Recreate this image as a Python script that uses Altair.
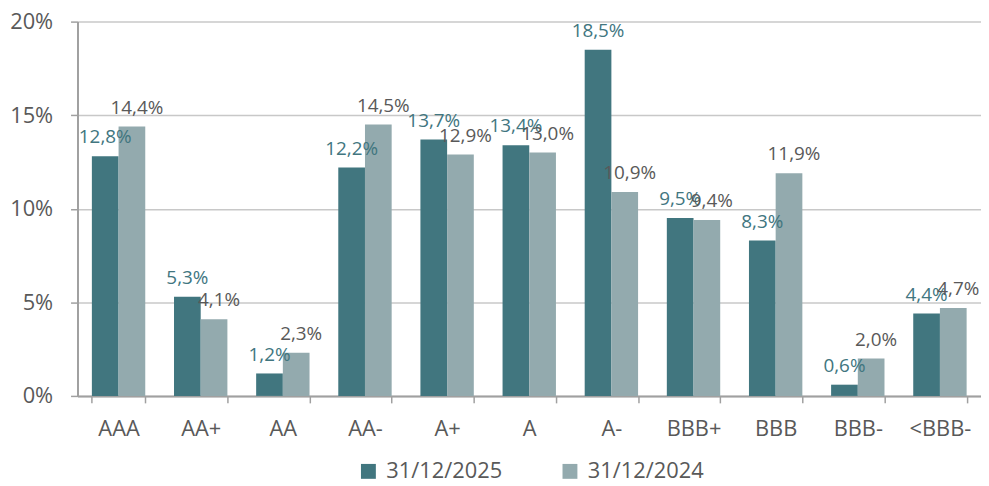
import altair as alt
import pandas as pd

categories = ["AAA", "AA+", "AA", "AA-", "A+", "A", "A-", "BBB+", "BBB", "BBB-", "<BBB-"]
series_names = ["31/12/2025", "31/12/2024"]
values_2025 = [12.8, 5.3, 1.2, 12.2, 13.7, 13.4, 18.5, 9.5, 8.3, 0.6, 4.4]
values_2024 = [14.4, 4.1, 2.3, 14.5, 12.9, 13.0, 10.9, 9.4, 11.9, 2.0, 4.7]

rows = []
for c, v in zip(categories, values_2025):
    rows.append({"cat": c, "series": series_names[0], "value": v})
for c, v in zip(categories, values_2024):
    rows.append({"cat": c, "series": series_names[1], "value": v})
df = pd.DataFrame(rows)
df["label"] = df["value"].map(lambda v: f"{v:.1f}".replace(".", ",") + "%")

DARK = "#41767F"
LIGHT = "#93AAAE"
TXT = "#595959"
FONT = "Open Sans"

x_enc = alt.X("cat:N", sort=categories, title=None,
              scale=alt.Scale(paddingInner=0.35, paddingOuter=0.175),
              axis=alt.Axis(labelAngle=0, tickBand="extent", labelFontSize=22,
                            labelFont=FONT, labelColor=TXT, labelPadding=16,
                            tickSize=7, tickColor="#A0A0A0", tickWidth=1.5,
                            domainColor="#A0A0A0", domainWidth=2, grid=False))
xo_enc = alt.XOffset("series:N", sort=series_names,
                     scale=alt.Scale(paddingInner=0, paddingOuter=0))
y_enc = alt.Y("value:Q", title=None,
              scale=alt.Scale(domain=[0, 20], nice=False),
              axis=alt.Axis(values=[0, 5, 10, 15, 20], labelExpr="datum.value + '%'",
                            labelFontSize=22, labelFont=FONT, labelColor=TXT,
                            labelPadding=18, tickSize=7, tickColor="#A0A0A0",
                            tickWidth=1.5, domainColor="#A0A0A0", domainWidth=2,
                            grid=True, gridColor="#C8C8C8", gridWidth=1.5))

base = alt.Chart(df)

bars = base.mark_bar().encode(
    x=x_enc,
    xOffset=xo_enc,
    y=y_enc,
    color=alt.Color("series:N", sort=series_names,
                    scale=alt.Scale(domain=series_names, range=[DARK, LIGHT]),
                    legend=alt.Legend(title=None, orient="none", legendX=282, legendY=442,
                                      direction="horizontal", symbolType="square",
                                      symbolSize=225, symbolStrokeWidth=0,
                                      labelFontSize=22, labelFont=FONT, labelColor=TXT,
                                      labelOffset=7, columnPadding=57)),
)

labels_dark = base.transform_filter(alt.datum.series == series_names[0]).mark_text(
    dy=-13, baseline="alphabetic", fontSize=19, font=FONT, color=DARK
).encode(x=alt.X("cat:N", sort=categories), xOffset=xo_enc, y="value:Q", text="label:N")

labels_light = base.transform_filter(alt.datum.series == series_names[1]).mark_text(
    dy=-13, dx=5, baseline="alphabetic", fontSize=19, font=FONT, color=TXT
).encode(x=alt.X("cat:N", sort=categories), xOffset=xo_enc, y="value:Q", text="label:N")

chart = alt.layer(bars, labels_dark, labels_light).properties(
    width=910, height=377,
    autosize=alt.AutoSizeParams(type="none"),
    padding={"left": 70, "top": 12, "right": 0, "bottom": 86},
).configure_view(stroke=None)

chart.save("out.html", embed_options={"renderer": "svg", "actions": False})
